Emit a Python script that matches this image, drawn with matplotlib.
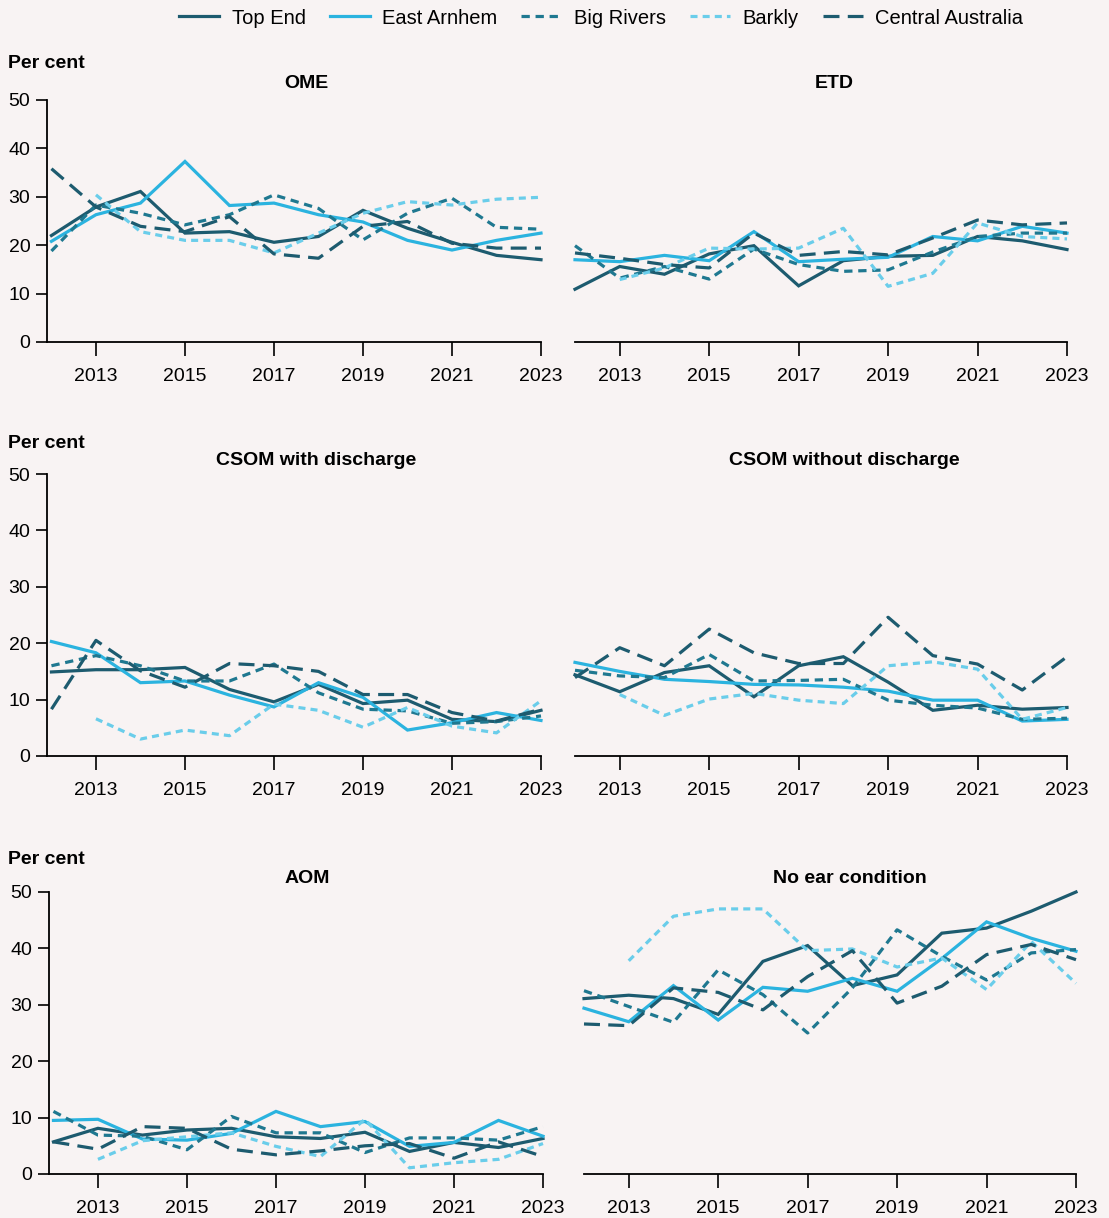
"""Ear conditions by NT region, 2012-2023: six small-multiple line panels
(OME, ETD, CSOM with/without discharge, AOM, no ear condition)."""
import numpy as np
import matplotlib
matplotlib.use("Agg")
import matplotlib.pyplot as plt
from matplotlib.lines import Line2D

NA = np.nan
YEARS = list(range(2012, 2024))
REGIONS = ["Top End", "East Arnhem", "Big Rivers", "Barkly", "Central Australia"]

# per cent of children, one row per region (order as REGIONS)
OME = [
    [22.0, 27.9, 31.1, 22.5, 22.8, 20.6, 21.8, 27.2, 23.5, 20.6, 17.9, 17.0],
    [20.8, 26.3, 28.7, 37.3, 28.2, 28.7, 26.3, 24.8, 21.0, 19.0, 21.0, 22.5],
    [18.8, 28.3, 26.6, 24.2, 26.3, 30.4, 27.6, 21.1, 26.6, 29.7, 23.7, 23.3],
    [NA, 30.4, 22.8, 21.0, 21.0, 18.4, 22.5, 26.6, 29.0, 28.3, 29.5, 29.9],
    [35.8, 27.9, 23.9, 22.8, 25.9, 18.2, 17.3, 23.9, 24.9, 20.4, 19.4, 19.4],
]
ETD = [
    [10.9, 15.6, 14.0, 18.2, 19.9, 11.6, 16.8, 17.7, 17.9, 21.8, 20.9, 19.1],
    [17.0, 16.6, 17.9, 16.8, 22.8, 16.6, 17.1, 17.5, 21.8, 20.9, 23.9, 22.5],
    [19.9, 13.2, 15.6, 13.0, 19.2, 16.0, 14.6, 14.9, 18.6, 21.8, 22.5, 22.5],
    [NA, 12.9, 15.3, 19.4, 19.2, 19.4, 23.5, 11.5, 14.2, 24.6, 21.8, 21.3],
    [18.4, 17.3, 16.0, 15.3, 22.5, 17.9, 18.7, 18.0, 21.5, 25.2, 24.2, 24.6],
]
CSOM_DISCHARGE = [
    [14.9, 15.3, 15.3, 15.7, 11.8, 9.6, 12.7, 9.3, 9.9, 6.5, 6.1, 8.1],
    [20.3, 18.3, 13.0, 13.3, 10.8, 8.7, 13.0, 10.4, 4.6, 5.9, 7.7, 6.3],
    [16.0, 17.8, 16.0, 13.3, 13.3, 16.3, 11.2, 8.3, 8.0, 5.8, 6.1, 7.1],
    [NA, 6.6, 3.0, 4.6, 3.6, 9.2, 8.1, 5.1, 8.6, 5.3, 4.1, 9.8],
    [8.3, 20.5, 15.1, 12.2, 16.4, 16.0, 15.0, 10.9, 10.9, 7.7, 6.2, 8.3],
]
CSOM_NO_DISCHARGE = [
    [14.4, 11.4, 14.8, 16.0, 10.5, 16.0, 17.6, 13.1, 8.1, 9.0, 8.3, 8.6],
    [16.6, 15.0, 13.6, 13.2, 12.7, 12.6, 12.2, 11.5, 9.9, 9.9, 6.2, 6.5],
    [15.2, 14.2, 13.9, 18.0, 13.3, 13.4, 13.6, 9.9, 9.0, 8.5, 6.5, 6.7],
    [NA, 10.9, 7.2, 10.1, 11.1, 9.9, 9.3, 16.0, 16.7, 15.4, 6.5, 8.6],
    [13.9, 19.2, 16.0, 22.5, 18.3, 16.4, 16.4, 24.6, 17.8, 16.3, 11.7, 17.6],
]
AOM = [
    [5.7, 8.1, 6.9, 7.8, 8.1, 6.6, 6.3, 7.4, 4.0, 5.6, 4.7, 6.3],
    [9.5, 9.7, 6.2, 6.0, 7.2, 11.1, 8.4, 9.3, 4.9, 5.6, 9.5, 6.7],
    [11.1, 6.9, 6.7, 4.3, 10.2, 7.3, 7.3, 3.8, 6.4, 6.4, 6.0, 8.4],
    [NA, 2.6, 5.9, 6.6, 7.3, 4.9, 3.1, 9.7, 1.1, 2.0, 2.6, 5.4],
    [5.7, 4.4, 8.4, 8.1, 4.4, 3.4, 4.1, 5.0, 5.4, 2.8, 5.7, 3.1],
]
NO_EAR = [
    [31.1, 31.7, 31.1, 28.3, 37.7, 40.5, 33.4, 35.3, 42.7, 43.6, 46.6, 50.0],
    [29.4, 27.0, 33.4, 27.3, 33.1, 32.4, 34.7, 32.4, 38.2, 44.7, 41.8, 39.5],
    [32.5, 29.7, 26.9, 36.2, 31.8, 25.0, 33.0, 43.3, 38.6, 34.4, 39.2, 39.8],
    [NA, 37.8, 45.7, 47.0, 47.0, 39.6, 39.9, 36.7, 38.3, 32.7, 41.2, 33.8],
    [26.6, 26.3, 33.0, 32.2, 29.1, 35.0, 39.6, 30.3, 33.3, 38.9, 40.7, 38.0],
]

PANELS = [
    ("OME", OME), ("ETD", ETD),
    ("CSOM with discharge", CSOM_DISCHARGE), ("CSOM without discharge", CSOM_NO_DISCHARGE),
    ("AOM", AOM), ("No ear condition", NO_EAR),
]

BG = "#f8f3f3"
DARK = "#1d5b6f"
STYLES = {
    "Top End": dict(color=DARK, dashes=None),
    "East Arnhem": dict(color="#2bb3df", dashes=None),
    "Big Rivers": dict(color="#1f7890", dashes=(2.6, 1.8)),
    "Barkly": dict(color="#6acdea", dashes=(2.2, 1.6)),
    "Central Australia": dict(color=DARK, dashes=(5.0, 2.6)),
}

plt.rcParams["font.family"] = ["Liberation Sans", "DejaVu Sans"]
plt.rcParams["font.size"] = 14

W, H = 1109, 1218


def px_axes(fig, left, top, width, height):
    return fig.add_axes([left / W, 1 - (top + height) / H, width / W, height / H])


def draw_panel(ax, title, rows, left_col, title_x, title_pad):
    for name, vals in zip(REGIONS, rows):
        st = STYLES[name]
        ln, = ax.plot(YEARS, vals, color=st["color"], lw=2.3, clip_on=False,
                      solid_joinstyle="miter", dash_capstyle="butt")
        if st["dashes"]:
            ln.set_dashes(st["dashes"])
    ax.set_facecolor(BG)
    ax.set_ylim(0, 50)
    ax.set_xlim(2011.9 if left_col else 2012, 2023)
    ax.set_xticks(range(2013, 2024, 2))
    ax.tick_params(axis="x", direction="out", length=10, width=1.2, pad=8.5, labelsize=14)
    for s in ("top", "right"):
        ax.spines[s].set_visible(False)
    ax.spines["bottom"].set_linewidth(1.3)
    if left_col:
        ax.set_yticks(range(0, 51, 10))
        ax.tick_params(axis="y", direction="out", length=8, width=1.2, pad=4, labelsize=14)
        ax.spines["left"].set_linewidth(1.3)
    else:
        ax.spines["left"].set_visible(False)
        ax.set_yticks([])
    ax.annotate(title, xy=(title_x, 1), xycoords="axes fraction", xytext=(0, title_pad),
                textcoords="offset points", ha="center", va="center",
                fontsize=14, fontweight="bold")


def main():
    fig = plt.figure(figsize=(W / 100, H / 100), dpi=100, facecolor=BG)

    # (top px, height px, left-col x0, right-col x0, title pad pt, "Per cent" y px)
    rows = [(100, 242, 47, 575, 11.6, 64), (474, 282, 47, 575, 10.0, 443),
            (892, 282, 49, 584, 10.0, 859)]
    title_x = [(0.525, 0.526), (0.545, 0.547), (0.522, 0.541)]
    for r, (top, height, xl, xr, pad, label_y) in enumerate(rows):
        for c in range(2):
            title, data = PANELS[2 * r + c]
            ax = px_axes(fig, xl if c == 0 else xr, top, 494 if c == 0 else 492, height)
            draw_panel(ax, title, data, c == 0, title_x[r][c], pad)
        fig.text(8 / W, 1 - label_y / H, "Per cent",
                 ha="left", va="center", fontsize=14, fontweight="bold")

    handles = []
    for name in REGIONS:
        st = STYLES[name]
        h = Line2D([], [], color=st["color"], lw=2.3, dash_capstyle="butt")
        if st["dashes"]:
            h.set_dashes(st["dashes"])
        handles.append(h)
    fig.legend(handles, REGIONS, loc="center", bbox_to_anchor=(0.542, 1 - 18 / H), ncol=5,
               frameon=False, handlelength=2.0, handletextpad=0.6, columnspacing=1.2,
               fontsize=14.5)

    fig.savefig("out.png", dpi=100, facecolor=BG)
    plt.close(fig)


if __name__ == "__main__":
    main()
